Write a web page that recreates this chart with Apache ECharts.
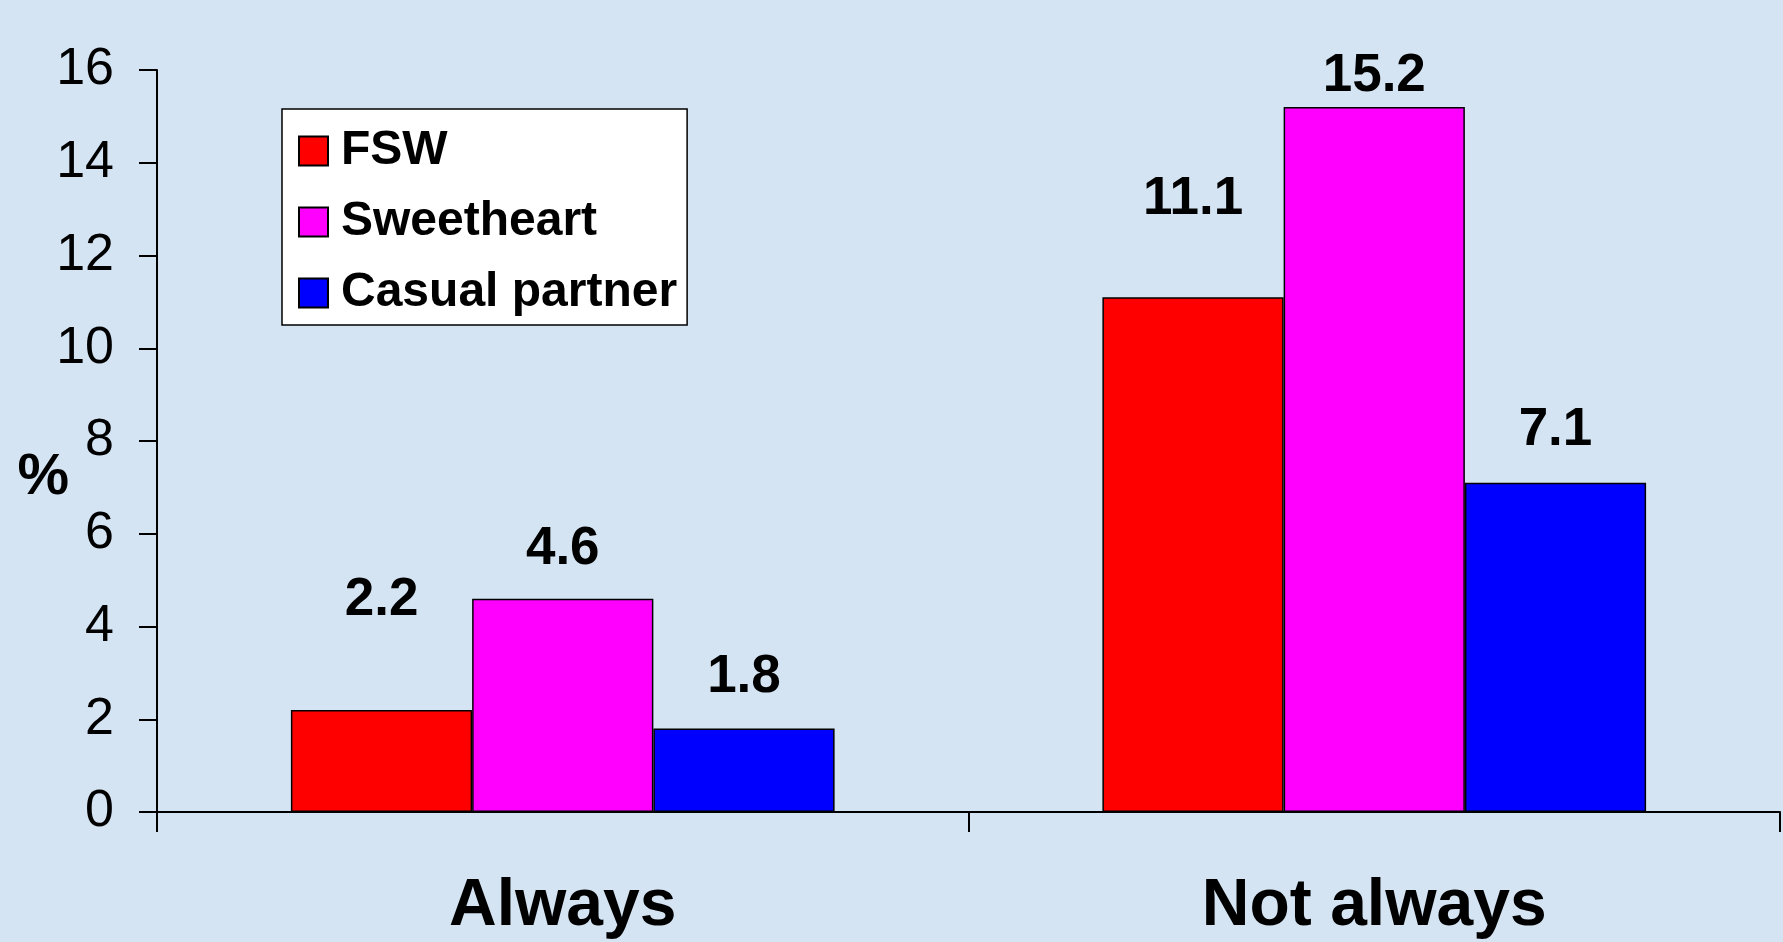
<!DOCTYPE html>
<html>
<head>
<meta charset="utf-8">
<script src="https://cdn.jsdelivr.net/npm/echarts@6/dist/echarts.min.js"></script>
<style>
  html, body { margin: 0; padding: 0; background: #d6e5f4; }
  #chart { width: 1783px; height: 942px; }
</style>
</head>
<body>
<div id="chart"></div>
<script>
// chart data
var categories = ['Always', 'Not always'];
var seriesNames = ['FSW', 'Sweetheart', 'Casual partner'];
var fswValues = [2.2, 11.1];
var sweetheartValues = [4.6, 15.2];
var casualValues = [1.8, 7.1];
var yTicks = [0, 2, 4, 6, 8, 10, 12, 14, 16];

// the value labels sit at uneven heights in the original slide
var labelGap = [[83, 71], [23, 4], [25, 26]];
var barColors = ['#ff0000', '#ff00ff', '#0000ff'];

var font = '"Liberation Sans", Arial, sans-serif';

function makeSeries(idx, values) {
	return {
		name: seriesNames[idx],
		type: 'bar',
		barGap: 0,
		barCategoryGap: '33%',
		itemStyle: {
			color: barColors[idx],
			borderColor: '#000',
			borderWidth: 1.5
		},
		data: values.map(function(v, i) {
			return {
				value: v,
				label: { distance: labelGap[idx][i] }
			};
		}),
		label: {
			show: true,
			position: 'top',
			color: '#000',
			fontFamily: font,
			fontWeight: 'bold',
			fontSize: 53
		}
	};
}

var myChart = echarts.init(document.getElementById('chart'));

var option = {
	backgroundColor: '#d5e4f3',
	animation: false,
	grid: {
		left: 157,
		right: 3,
		top: 70,
		bottom: 130,
		outerBoundsMode: 'none',
		containLabel: false
	},
	legend: {
		orient: 'vertical',
		left: 282,
		top: 109,
		backgroundColor: '#fff',
		borderColor: '#000',
		borderWidth: 1.5,
		padding: [18, 10, 8, 16],
		itemWidth: 29,
		itemHeight: 29,
		itemGap: 23,
		icon: 'rect',
		textStyle: {
			color: '#000',
			fontFamily: font,
			fontWeight: 'bold',
			fontSize: 48,
			lineHeight: 48,
			padding: [0, 0, 0, 8]
		},
		data: seriesNames
	},
	xAxis: {
		type: 'category',
		data: categories,
		axisLine: { lineStyle: { color: '#000', width: 2 } },
		axisTick: { show: true, length: 20, lineStyle: { color: '#000', width: 2 } },
		axisLabel: {
			color: '#000',
			fontFamily: font,
			fontWeight: 'bold',
			fontSize: 66,
			lineHeight: 50,
			margin: 70
		}
	},
	yAxis: {
		type: 'value',
		min: yTicks[0],
		max: yTicks[yTicks.length - 1],
		interval: 2,
		name: '%',
		nameLocation: 'middle',
		nameRotate: 0,
		nameGap: 88,
		nameMoveOverlap: false,
		nameTextStyle: {
			color: '#000',
			fontFamily: font,
			fontWeight: 'bold',
			fontSize: 58,
			verticalAlign: 'top',
			padding: [8, 0, 0, 0]
		},
		splitLine: { show: false },
		axisLine: { show: true, lineStyle: { color: '#000', width: 2 } },
		axisTick: { show: true, length: 18, lineStyle: { color: '#000', width: 2 } },
		axisLabel: {
			color: '#000',
			fontFamily: font,
			fontSize: 52,
			margin: 43
		}
	},
	series: [
		makeSeries(0, fswValues),
		makeSeries(1, sweetheartValues),
		makeSeries(2, casualValues)
	]
};

myChart.setOption(option);
</script>
</body>
</html>
